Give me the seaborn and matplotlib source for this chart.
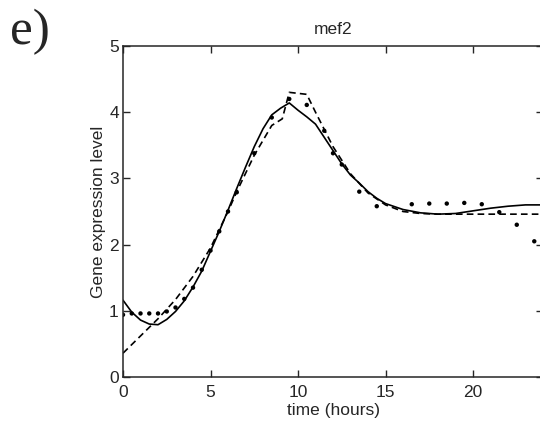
import matplotlib
matplotlib.use("Agg")
import matplotlib.pyplot as plt
import seaborn as sns
import pandas as pd

sns.set_style("ticks")
plt.rcParams["font.family"] = ["Liberation Sans", "DejaVu Sans"]

# measured expression (dots)
obs_t = [0, 0.5, 1, 1.5, 2, 2.5, 3, 3.5, 4, 4.5, 5, 5.5, 6, 6.5, 7.5, 8.5, 9.5,
         10.5, 11.5, 12, 12.5, 13.5, 14.5, 16.5, 17.5, 18.5, 19.5, 20.5, 21.5, 22.5, 23.5]
obs_v = [0.94, 0.96, 0.96, 0.96, 0.96, 0.99, 1.05, 1.18, 1.35, 1.62, 1.91, 2.2, 2.5, 2.79,
         3.38, 3.92, 4.2, 4.11, 3.72, 3.38, 3.21, 2.8, 2.58, 2.61, 2.62, 2.62, 2.63, 2.61,
         2.49, 2.30, 2.05]

# model fit (solid)
fit_t = [0, 0.5, 1, 1.5, 2, 2.5, 3, 3.5, 4, 4.5, 5, 5.5, 6, 6.5, 7, 7.5, 8, 8.5, 9, 9.5,
         10, 10.5, 11, 11.5, 12, 12.5, 13, 13.5, 14, 14.5, 15, 16, 17, 18, 19, 20, 21, 22, 23, 24]
fit_v = [1.16, 0.98, 0.86, 0.8, 0.79, 0.87, 0.99, 1.15, 1.36, 1.6, 1.9, 2.2, 2.52, 2.85,
         3.17, 3.48, 3.75, 3.96, 4.06, 4.14, 4.03, 3.93, 3.82, 3.62, 3.42, 3.22, 3.05, 2.93,
         2.8, 2.7, 2.62, 2.53, 2.48, 2.46, 2.47, 2.51, 2.55, 2.58, 2.6, 2.6]

# alternative model (dashed)
alt_t = [0, 1, 2, 3, 4, 5, 6, 6.5, 7.5, 8.5, 9.1, 9.5, 10.5, 11, 12, 13, 14, 15, 16, 17, 18, 24]
alt_v = [0.36, 0.62, 0.88, 1.17, 1.52, 1.95, 2.5, 2.8, 3.35, 3.8, 3.9, 4.3, 4.27, 4.0, 3.48,
         3.07, 2.78, 2.6, 2.5, 2.47, 2.46, 2.46]

obs = pd.DataFrame({"t": obs_t, "v": obs_v})
fit = pd.DataFrame({"t": fit_t, "v": fit_v})
alt = pd.DataFrame({"t": alt_t, "v": alt_v})

fig = plt.figure(figsize=(5.4, 4.21), dpi=100)
ax = fig.add_axes([0.2278, 0.1045, 0.7778, 0.7862])

sns.lineplot(data=fit, x="t", y="v", ax=ax, color="black", lw=1.2)
sns.lineplot(data=alt, x="t", y="v", ax=ax, color="black", lw=1.2, linestyle=(0, (4, 2.5)))
sns.scatterplot(data=obs, x="t", y="v", ax=ax, color="black", s=10, edgecolor="none")

ax.set_xlim(0, 24)
ax.set_ylim(0, 5)
ax.set_xticks([0, 5, 10, 15, 20])
ax.set_yticks([0, 1, 2, 3, 4, 5])
ax.tick_params(direction="in", length=5, width=1, labelsize=12.5,
               top=True, right=True)
ax.tick_params(axis="x", pad=6)
ax.tick_params(axis="y", pad=3)
for s in ax.spines.values():
    s.set_linewidth(1.1)
ax.set_xlabel("time (hours)", fontsize=12.5, labelpad=2)
ax.set_ylabel("Gene expression level", fontsize=12.5, labelpad=2)
ax.set_title("mef2", fontsize=12.5, pad=9)

fig.text(0.018, 0.895, "e)", fontsize=37, family="Liberation Serif")

fig.savefig("out.png", dpi=100)
